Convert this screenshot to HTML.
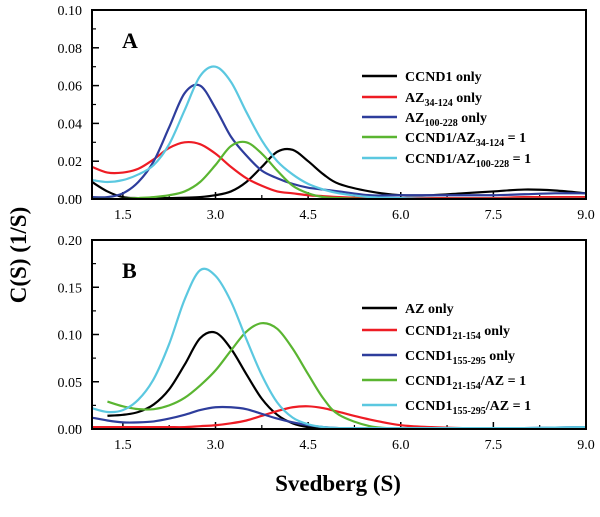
<!DOCTYPE html>
<html><head><meta charset="utf-8"><style>
body{margin:0;background:#fff;width:600px;height:512px;overflow:hidden}
svg{font-family:"Liberation Serif",serif}
.tk{font-size:14px}
.lg{font-size:14px;font-weight:bold}
</style></head><body>
<svg id="chart" width="600" height="512">
<text x="26" y="255" transform="rotate(-90 26 255)" text-anchor="middle" font-size="23" font-weight="bold">C(S) (1/S)</text>
<text x="338" y="491" text-anchor="middle" font-size="23" font-weight="bold">Svedberg (S)</text>
</svg>
<script>
const xs=[1.0,1.25,1.5,1.75,2.0,2.25,2.5,2.75,3.0,3.25,3.5,3.75,4.0,4.25,4.5,4.75,5.0,5.5,6.0,6.5,7.0,7.5,8.0,8.5,9.0];
const xTicks=["1.5","3.0","4.5","6.0","7.5","9.0"];
const yTicksA=["0.00","0.02","0.04","0.06","0.08","0.10"];
const yTicksB=["0.00","0.05","0.10","0.15","0.20"];
const aBlack=[0.009,0.004,0.001,0.0005,0.0005,0.0005,0.0007,0.001,0.002,0.004,0.009,0.017,0.025,0.026,0.02,0.013,0.008,0.004,0.002,0.002,0.003,0.004,0.005,0.0045,0.003];
const aRed=[0.017,0.014,0.014,0.016,0.021,0.027,0.030,0.029,0.024,0.017,0.011,0.007,0.004,0.003,0.002,0.0015,0.001,0.0005,0.0005,0.0005,0.0005,0.0005,0.001,0.001,0.001];
const aBlue=[0.001,0.001,0.003,0.009,0.020,0.038,0.056,0.060,0.048,0.033,0.023,0.015,0.011,0.008,0.006,0.005,0.004,0.002,0.002,0.002,0.002,0.002,0.0025,0.003,0.003];
const aGreen=[0,0,0,0.0005,0.001,0.002,0.004,0.009,0.018,0.028,0.030,0.024,0.015,0.007,0.003,0.001,0.0005,0,0,0,0,0,0,0,0];
const aCyan=[0.010,0.009,0.010,0.013,0.018,0.029,0.047,0.065,0.070,0.062,0.046,0.031,0.020,0.013,0.008,0.005,0.003,0.001,0.0005,0,0,0,0,0,0];
const bBlack=[null,0.014,0.015,0.018,0.026,0.042,0.068,0.096,0.102,0.085,0.058,0.032,0.015,0.006,0.002,0.001,0,0,0,0,0,0,0,0,0];
const bRed=[0.002,0.002,0.002,0.002,0.002,0.002,0.002,0.003,0.004,0.006,0.009,0.014,0.019,0.023,0.024,0.022,0.018,0.010,0.004,0.002,0.001,0.0005,0.0005,0.0005,0.0005];
const bBlue=[0.012,0.009,0.007,0.007,0.008,0.011,0.015,0.020,0.023,0.023,0.021,0.016,0.011,0.007,0.004,0.002,0.001,0.001,0.001,0.001,0.001,0.001,0.001,0.0015,0.002];
const bGreen=[null,0.029,0.024,0.021,0.021,0.025,0.033,0.046,0.062,0.083,0.103,0.112,0.106,0.085,0.058,0.032,0.015,0.003,0.0005,0,0,0,0,0,0];
const bCyan=[0.022,0.018,0.020,0.031,0.053,0.090,0.137,0.168,0.162,0.135,0.095,0.057,0.028,0.012,0.005,0.002,0.001,0.001,0.001,0.001,0.001,0.001,0.001,0.0015,0.002];
const C={k:"#000",r:"#ee1c24",b:"#2e3d9c",g:"#5ab531",c:"#5bc8e0"};
const NS="http://www.w3.org/2000/svg";
const svg=document.getElementById("chart");
function mk(t,a,p){const e=document.createElementNS(NS,t);for(const k in a)e.setAttribute(k,a[k]);(p||svg).appendChild(e);return e;}
const L=92,R=586;
function sx(v){return L+(v-1.0)/8*(R-L);}
function panel(id,top,bot,ymax,yTicks,letter,series,legend,legY){
  const g=mk("g",{});
  
  
  const sy=v=>bot-v/ymax*(bot-top);
  const clipId="clip-"+id;
  const cp=mk("clipPath",{id:clipId},g);mk("rect",{x:L,y:top,width:R-L,height:bot-top},cp);
  xTicks.forEach((t,i)=>{const v=parseFloat(t);const x=sx(v);
    mk("line",{x1:x,x2:x,y1:bot,y2:bot-7,stroke:"#000","stroke-width":1.5},g);
    const xm=sx(v-0.75);mk("line",{x1:xm,x2:xm,y1:bot,y2:bot-4,stroke:"#000","stroke-width":1.2},g);
    const tx=mk("text",{x:x,y:bot+20,"text-anchor":"middle",class:"tk"},g);tx.textContent=t;
    
    });
  yTicks.forEach((t,i)=>{const v=parseFloat(t);const y=sy(v);
    mk("line",{x1:L,x2:L+7,y1:y,y2:y,stroke:"#000","stroke-width":1.5},g);
    if(i>0){const ym=sy(v-(parseFloat(yTicks[1])/2));mk("line",{x1:L,x2:L+4,y1:ym,y2:ym,stroke:"#000","stroke-width":1.2},g);}
    const tx=mk("text",{x:82,y:y+5,"text-anchor":"end",class:"tk"},g);tx.textContent=t;
    
    });
  const cg=mk("g",{"clip-path":"url(#"+clipId+")"},g);
  series.forEach(([arr,col,name])=>{
    const pts=[];arr.forEach((v,i)=>{if(v!==null)pts.push([sx(xs[i]),sy(v)]);});
    let d="M"+pts[0][0]+","+pts[0][1];
    for(let i=0;i<pts.length-1;i++){const p0=pts[Math.max(0,i-1)],p1=pts[i],p2=pts[i+1],p3=pts[Math.min(pts.length-1,i+2)];
      d+=" C"+(p1[0]+(p2[0]-p0[0])/6)+","+(p1[1]+(p2[1]-p0[1])/6)+" "+(p2[0]-(p3[0]-p1[0])/6)+","+(p2[1]-(p3[1]-p1[1])/6)+" "+p2[0]+","+p2[1];}
    const p=mk("path",{d:d,fill:"none",stroke:col,"stroke-width":2.2},cg);
    
    
  });
  mk("rect",{x:L,y:top,width:R-L,height:bot-top,fill:"none",stroke:"#000","stroke-width":2},g);
  const lt=mk("text",{x:122,y:top+38,"font-size":"22","font-weight":"bold"},g);lt.textContent=letter;
  
  
  legend.forEach(([html,col],i)=>{const y=legY[i];
    const lg=mk("g",{},g);
    
    
    mk("line",{x1:362,x2:397,y1:y,y2:y,stroke:col,"stroke-width":2.5},lg);
    const t=mk("text",{x:405,y:y+5,class:"lg"},lg);t.innerHTML=html;});
}
const sub=s=>'<tspan dy="4" font-size="10">'+s+'</tspan><tspan dy="-4">';
panel("panel-a",10,199,0.10,yTicksA,"A",
 [[aBlack,C.k,"line-ccnd1-only"],[aRed,C.r,"line-az34-only"],[aBlue,C.b,"line-az100-only"],[aGreen,C.g,"line-ccnd1-az34"],[aCyan,C.c,"line-ccnd1-az100"]],
 [["CCND1 only",C.k],["AZ"+sub("34-124")+" only</tspan>",C.r],["AZ"+sub("100-228")+" only</tspan>",C.b],["CCND1/AZ"+sub("34-124")+" = 1</tspan>",C.g],["CCND1/AZ"+sub("100-228")+" = 1</tspan>",C.c]],
 [76,97,117,137,158]);
panel("panel-b",240,429,0.20,yTicksB,"B",
 [[bBlack,C.k,"line-az-only"],[bRed,C.r,"line-ccnd1-21-only"],[bBlue,C.b,"line-ccnd1-155-only"],[bGreen,C.g,"line-ccnd1-21-az"],[bCyan,C.c,"line-ccnd1-155-az"]],
 [["AZ only",C.k],["CCND1"+sub("21-154")+" only</tspan>",C.r],["CCND1"+sub("155-295")+" only</tspan>",C.b],["CCND1"+sub("21-154")+"/AZ = 1</tspan>",C.g],["CCND1"+sub("155-295")+"/AZ = 1</tspan>",C.c]],
 [308,330,355,380,405]);
</script>
</body></html>
